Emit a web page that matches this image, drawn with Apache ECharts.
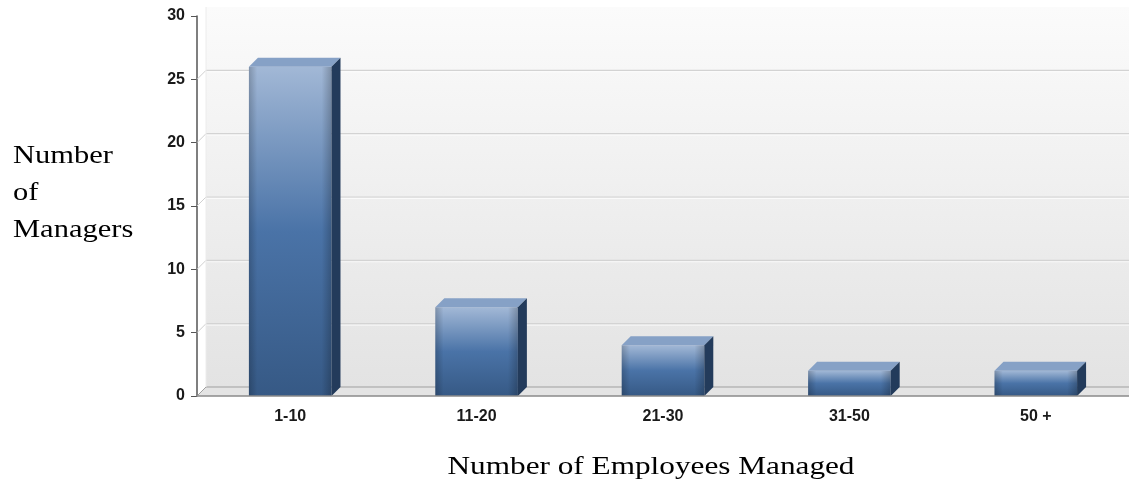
<!DOCTYPE html>
<html><head><meta charset="utf-8">
<script src="https://cdn.jsdelivr.net/npm/echarts@6/dist/echarts.min.js"></script>
<style>html,body{margin:0;padding:0;background:#fff}#c{width:1129px;height:489px}</style>
</head><body><div id="c"></div>
<script>
const categories = ['1-10', '11-20', '21-30', '31-50', '50 +'];
const managers = [26, 7, 4, 2, 2];
const yTicks = [0, 5, 10, 15, 20, 25, 30];
const yTitle = 'Number\nof\nManagers';
const xTitle = 'Number of Employees Managed';

const DX = 9, DY = 9;
const chart = echarts.init(document.getElementById('c'));
const lab = { fontFamily: 'Liberation Sans, Arial', fontWeight: 'bold', fontSize: 16, color: '#1a1a1a' };

function barItem(params, api) {
  const cat = api.value(0), val = api.value(1);
  const top = api.coord([cat, val]);
  const base = api.coord([cat, 0]);
  const bw = api.size([1, 0])[0] * 0.443;
  const x0 = top[0] - bw / 2, x1 = top[0] + bw / 2;
  const yt = top[1], yb = base[1];
  return {
    type: 'group',
    children: [
      { type: 'rect', shape: { x: x0, y: yt, width: bw, height: yb - yt },
        style: { fill: new echarts.graphic.LinearGradient(0, 0, 0, 1, [
          { offset: 0, color: '#a2b8d6' }, { offset: 0.5, color: '#4a73a7' }, { offset: 1, color: '#365985' }]) } },
      { type: 'rect', shape: { x: x0, y: yt, width: bw, height: yb - yt },
        style: { fill: new echarts.graphic.LinearGradient(0, 0, 1, 0, [
          { offset: 0, color: 'rgba(0,0,0,0.2)' }, { offset: 0.1, color: 'rgba(0,0,0,0)' },
          { offset: 0.88, color: 'rgba(0,0,0,0)' }, { offset: 1, color: 'rgba(0,0,0,0.22)' }]) } },
      { type: 'polygon', shape: { points: [[x0, yt], [x1, yt], [x1 + DX, yt - DY], [x0 + DX, yt - DY]] },
        style: { fill: '#86a1c6' } },
      { type: 'polygon', shape: { points: [[x1, yt], [x1 + DX, yt - DY], [x1 + DX, yb - DY], [x1, yb]] },
        style: { fill: '#233b5b' } }
    ]
  };
}

function decoItem(params, api) {
  const cs = params.coordSys;
  const v = api.value(1);
  const p = api.coord([0, v]);
  const children = [];
  if (v === yTicks[yTicks.length - 1]) {
    return { type: 'line', shape: { x1: cs.x + DX, y1: p[1] - DY, x2: cs.x + DX, y2: cs.y + cs.height - DY },
      style: { stroke: '#ececec', lineWidth: 1 } };
  }
  if (v === 0) {
    children.push({ type: 'polygon', shape: { points: [[cs.x, p[1]], [cs.x + cs.width, p[1]], [cs.x + cs.width + DX, p[1] - DY], [cs.x + DX, p[1] - DY]] },
      style: { fill: '#e4e4e4' } });
    children.push({ type: 'line', shape: { x1: cs.x + DX, y1: p[1] - DY, x2: cs.x + cs.width + DX, y2: p[1] - DY },
      style: { stroke: '#a0a0a0', lineWidth: 1.2 } });
  } else {
    children.push({ type: 'line', shape: { x1: cs.x + DX, y1: p[1] - DY, x2: cs.x + cs.width + DX, y2: p[1] - DY },
      style: { stroke: '#d3d3d3', lineWidth: 1.2 } });
    children.push({ type: 'line', shape: { x1: cs.x + DX, y1: p[1] - DY + 1.5, x2: cs.x + cs.width + DX, y2: p[1] - DY + 1.5 },
      style: { stroke: 'rgba(255,255,255,0.7)', lineWidth: 1 } });
  }
  children.push({ type: 'line', shape: { x1: cs.x, y1: p[1], x2: cs.x + DX, y2: p[1] - DY },
    style: { stroke: v === 0 ? '#a0a0a0' : '#d0d0d0', lineWidth: 1 } });
  return { type: 'group', children };
}

chart.setOption({
  animation: false,
  backgroundColor: '#ffffff',
  grid: [
    { left: 197, top: 16, width: 934, height: 380, show: false },
    { left: 197 + DX, top: 16 - DY, width: 934, height: 380, show: true, borderWidth: 0,
      backgroundColor: new echarts.graphic.LinearGradient(0, 0, 0, 1, [
        { offset: 0, color: '#fbfbfb' }, { offset: 1, color: '#e3e3e3' }]) }
  ],
  xAxis: [
    { type: 'category', gridIndex: 0, data: categories, boundaryGap: true,
      axisLine: { lineStyle: { color: '#8a8a8a', width: 1.5 } },
      axisTick: { alignWithLabel: true, length: 6, lineStyle: { color: '#666' } },
      axisLabel: Object.assign({ margin: 13 }, lab), splitLine: { show: false }, z: 5 },
    { type: 'category', gridIndex: 1, data: categories, show: false }
  ],
  yAxis: [
    { type: 'value', gridIndex: 0, min: 0, max: 30, interval: 5,
      axisLine: { show: true, lineStyle: { color: '#555', width: 1.5 } },
      axisTick: { show: true, length: 6, lineStyle: { color: '#555' } },
      axisLabel: Object.assign({ margin: 12 }, lab),
      splitLine: { show: false } },
    { type: 'value', gridIndex: 1, min: 0, max: 30, interval: 5, show: false,
      splitLine: { show: false } }
  ],
  series: [
    { type: 'custom', xAxisIndex: 0, yAxisIndex: 0, z: 1, clip: false, silent: true,
      renderItem: decoItem, data: yTicks.map(v => [0, v]) },
    { type: 'custom', xAxisIndex: 0, yAxisIndex: 0, z: 3, clip: false,
      renderItem: barItem, data: managers.map((v, i) => [i, v]) }
  ],
  graphic: [
    { type: 'text', x: 13, y: 138, scaleX: 1.22, style: { text: yTitle, font: '25px "Liberation Serif", "Times New Roman", serif', lineHeight: 37, fill: '#000', align: 'left', verticalAlign: 'top' } },
    { type: 'text', x: 651, y: 467, scaleX: 1.25, style: { text: xTitle, font: '25px "Liberation Serif", "Times New Roman", serif', fill: '#000', align: 'center', verticalAlign: 'middle' } }
  ]
});
</script></body></html>
